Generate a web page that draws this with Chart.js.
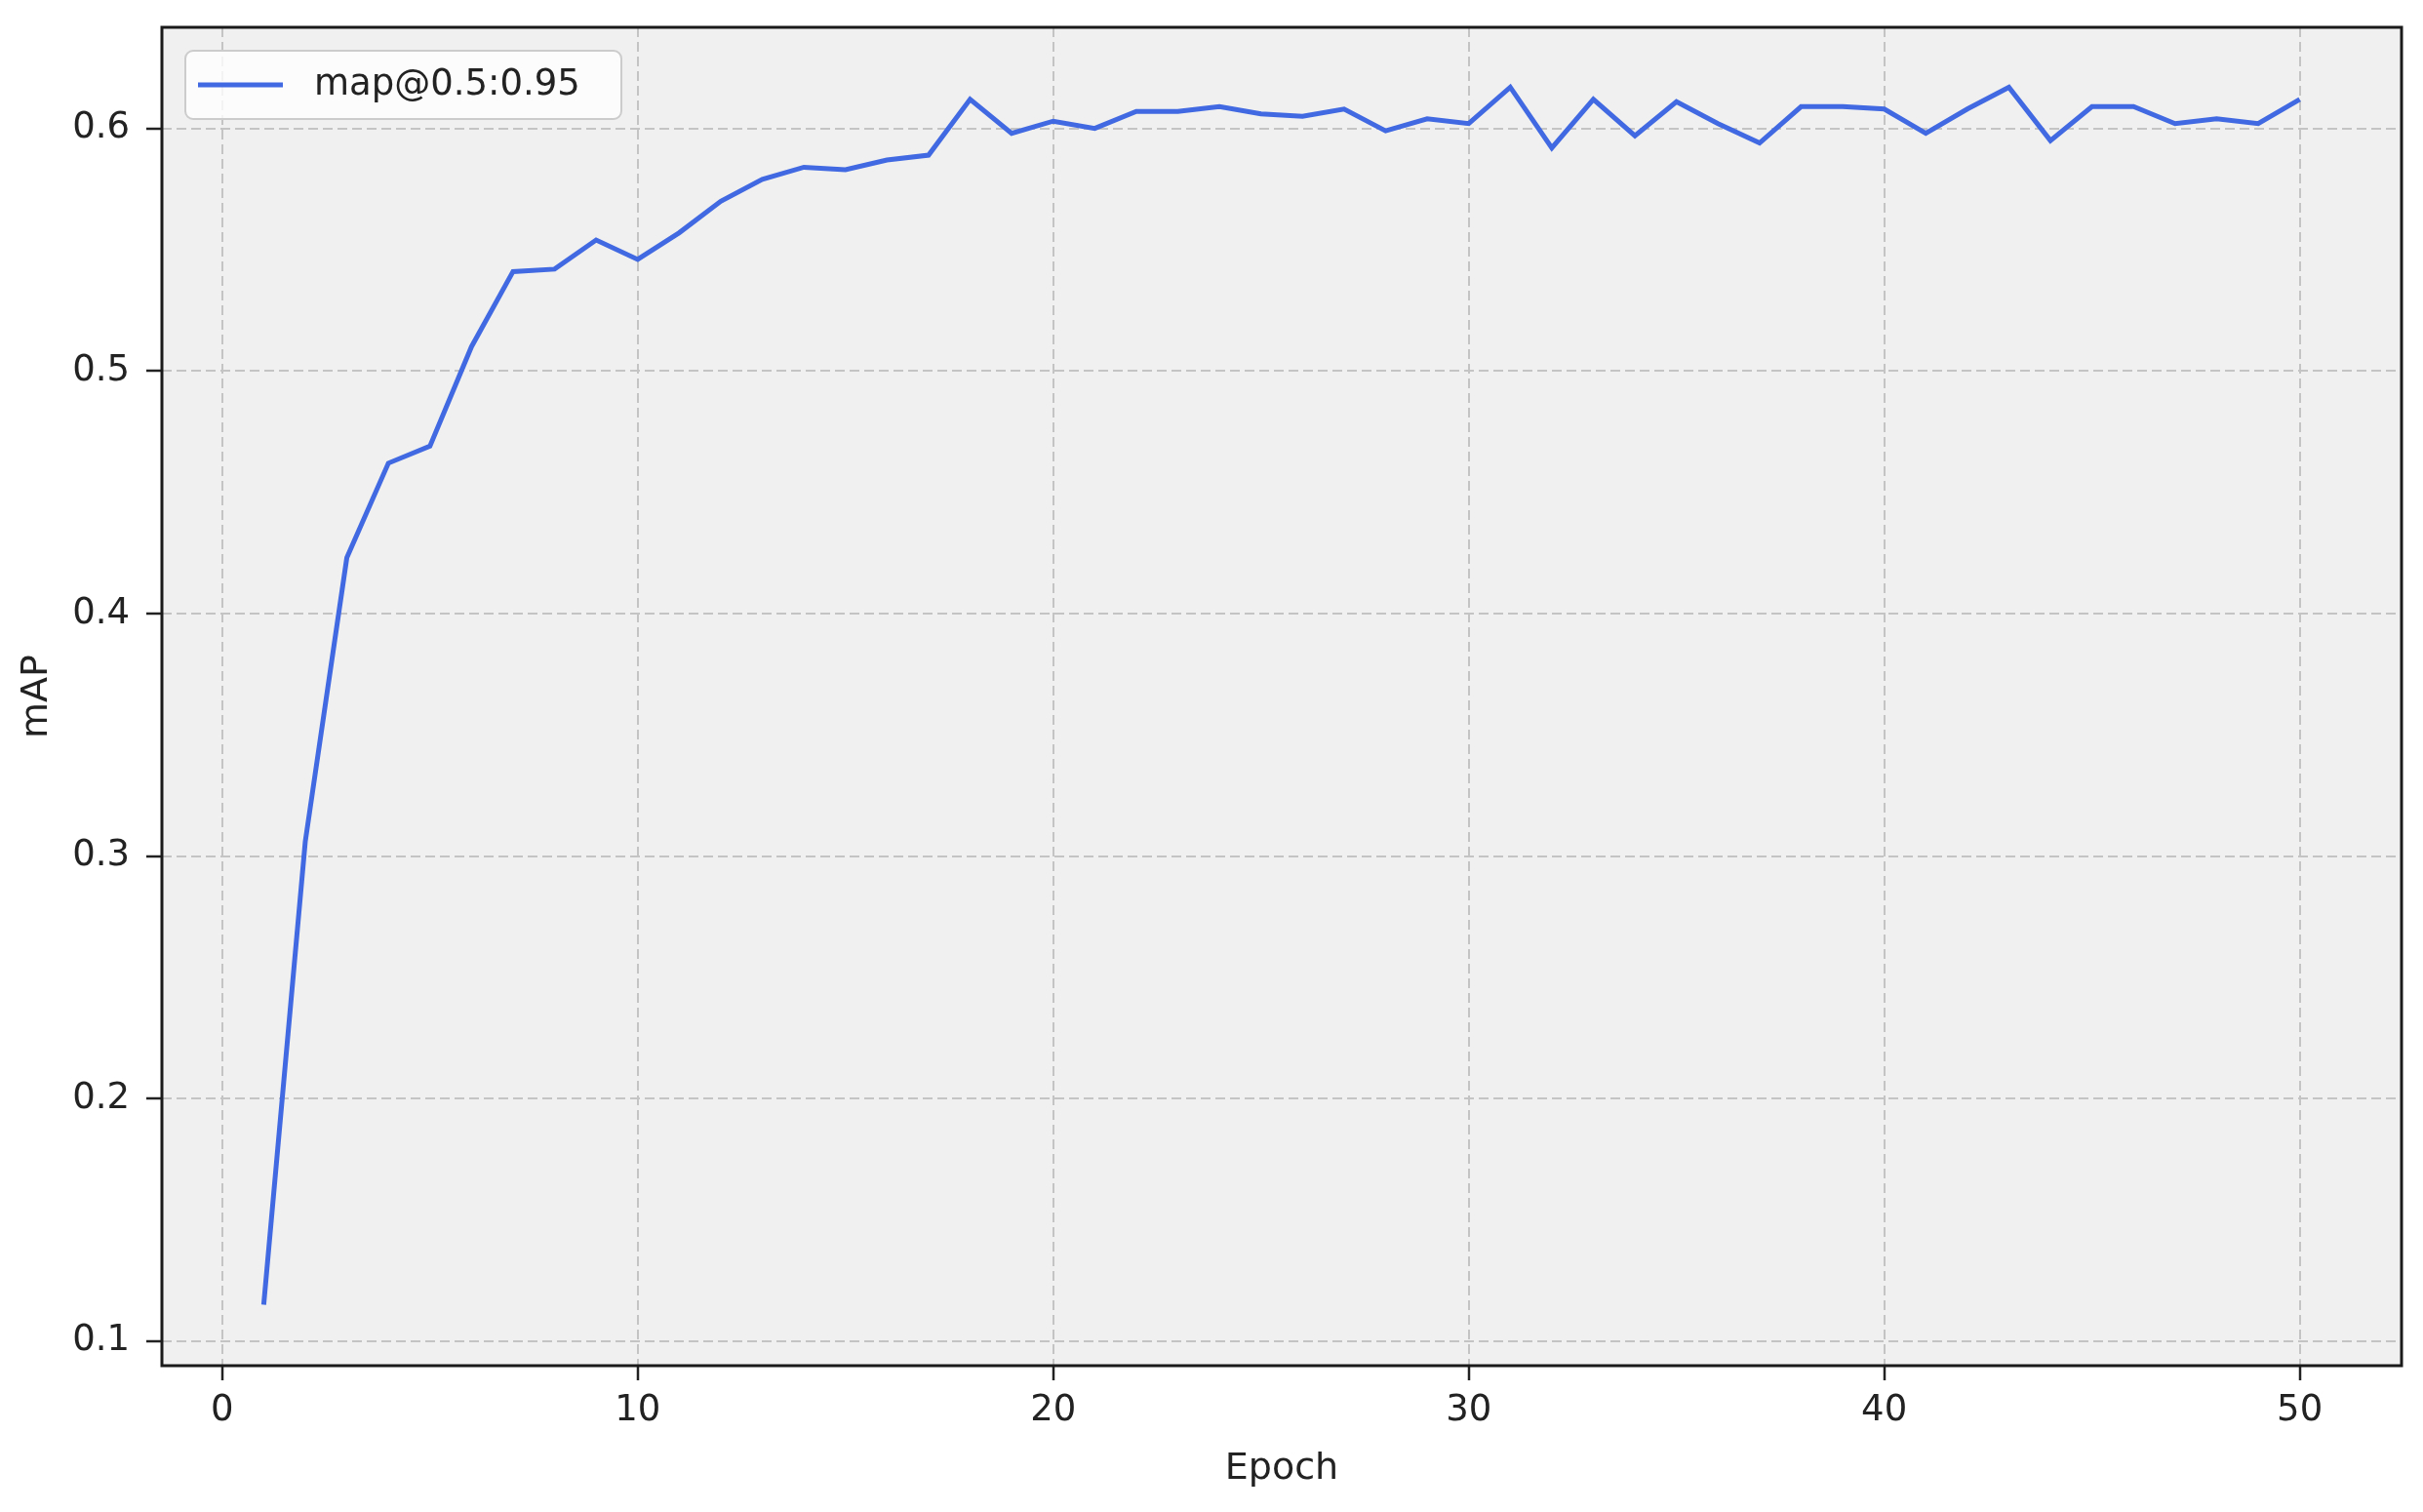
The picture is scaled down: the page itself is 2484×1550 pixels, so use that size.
<!DOCTYPE html>
<html>
<head>
<meta charset="utf-8">
<script src="https://cdn.jsdelivr.net/npm/chart.js@4"></script>
<style>
  html, body { margin: 0; padding: 0; background: #fff; }
  canvas { display: block; }
</style>
</head>
<body>
<canvas id="grafica_map" width="2484" height="1550"></canvas>
<script>
/* data */
const epocas = [1, 2, 3, 4, 5, 6, 7, 8, 9, 10,
                11, 12, 13, 14, 15, 16, 17, 18, 19, 20,
                21, 22, 23, 24, 25, 26, 27, 28, 29, 30,
                31, 32, 33, 34, 35, 36, 37, 38, 39, 40,
                41, 42, 43, 44, 45, 46, 47, 48, 49, 50];
const valores_map = [0.115, 0.306, 0.423, 0.462, 0.469, 0.510, 0.541, 0.542, 0.554, 0.546,
                     0.557, 0.570, 0.579, 0.584, 0.583, 0.587, 0.589, 0.612, 0.598, 0.603,
                     0.600, 0.607, 0.607, 0.609, 0.606, 0.605, 0.608, 0.599, 0.604, 0.602,
                     0.617, 0.592, 0.612, 0.597, 0.611, 0.602, 0.594, 0.609, 0.609, 0.608,
                     0.598, 0.608, 0.617, 0.595, 0.609, 0.609, 0.602, 0.604, 0.602, 0.612];
const etiqueta_serie = 'map@0.5:0.95';
const ticks_x = [0, 10, 20, 30, 40, 50];
const ticks_y = [0.1, 0.2, 0.3, 0.4, 0.5, 0.6];

const FUENTE = "'DejaVu Sans', sans-serif";
const COLOR_TEXTO = '#222';
const COLOR_LINEA = '#4169E1';

/* grey plot background, black frame and the boxed legend inside the axes */
const decoracion = {
    id: 'decoracion',
    beforeDraw(chart) {
        const { ctx, chartArea: ca } = chart;
        ctx.save();
        ctx.fillStyle = '#f0f0f0';
        ctx.fillRect(ca.left, ca.top, ca.right - ca.left, ca.bottom - ca.top);
        ctx.restore();
    },
    afterDatasetsDraw(chart) {
        const { ctx, chartArea: ca } = chart;
        ctx.save();
        ctx.strokeStyle = '#1a1a1a';
        ctx.lineWidth = 3;
        ctx.strokeRect(ca.left, ca.top, ca.right - ca.left, ca.bottom - ca.top);

        /* legend box */
        const bx = ca.left + 24, by = ca.top + 24, bw = 447, bh = 70;
        ctx.beginPath();
        ctx.roundRect(bx, by, bw, bh, 8);
        ctx.fillStyle = 'rgba(255,255,255,0.8)';
        ctx.fill();
        ctx.strokeStyle = '#cccccc';
        ctx.lineWidth = 2;
        ctx.stroke();

        const cy = by + bh / 2;
        ctx.beginPath();
        ctx.moveTo(bx + 13, cy);
        ctx.lineTo(bx + 100, cy);
        ctx.strokeStyle = COLOR_LINEA;
        ctx.lineWidth = 5;
        ctx.stroke();

        ctx.fillStyle = COLOR_TEXTO;
        ctx.font = `37px ${FUENTE}`;
        ctx.textBaseline = 'middle';
        ctx.textAlign = 'left';
        ctx.fillText(chart.data.datasets[0].label, bx + 132, cy);
        ctx.restore();
    }
};

new Chart(document.getElementById('grafica_map'), {
    type: 'line',
    data: {
        datasets: [{
            label: etiqueta_serie,
            data: epocas.map((e, i) => ({ x: e, y: valores_map[i] })),
            borderColor: COLOR_LINEA,
            borderWidth: 5,
            pointRadius: 0,
            tension: 0,
            fill: false
        }]
    },
    options: {
        responsive: false,
        animation: false,
        layout: { padding: { left: 0, top: 28, right: 22, bottom: 0 } },
        plugins: {
            legend: { display: false },
            tooltip: { enabled: false }
        },
        scales: {
            x: {
                type: 'linear',
                min: -1.45,
                max: 52.45,
                afterBuildTicks: s => { s.ticks = ticks_x.map(v => ({ value: v })); },
                afterFit: s => { s.height = 150; s.paddingLeft = 0; s.paddingRight = 0; },
                ticks: {
                    callback: v => String(v),
                    color: COLOR_TEXTO,
                    font: { family: FUENTE, size: 37 },
                    padding: 9,
                    maxRotation: 0,
                    autoSkip: false
                },
                grid: { color: '#c4c4c4', lineWidth: 2, tickColor: '#222', tickLength: 15, tickWidth: 2.5 },
                border: { display: false, dash: [10, 5] },
                title: {
                    display: true,
                    text: 'Epoch',
                    color: COLOR_TEXTO,
                    font: { family: FUENTE, size: 38 },
                    padding: { top: 0, bottom: 21 }
                }
            },
            y: {
                min: 0.0899,
                max: 0.6417,
                afterBuildTicks: s => { s.ticks = ticks_y.map(v => ({ value: v })); },
                afterFit: s => { s.width = 166; s.paddingTop = 0; s.paddingBottom = 0; },
                ticks: {
                    callback: v => v.toFixed(1),
                    color: COLOR_TEXTO,
                    font: { family: FUENTE, size: 37 },
                    padding: 17,
                    autoSkip: false
                },
                grid: { color: '#c4c4c4', lineWidth: 2, tickColor: '#222', tickLength: 16, tickWidth: 2.5 },
                border: { display: false, dash: [10, 5] },
                title: {
                    display: true,
                    text: 'mAP',
                    color: COLOR_TEXTO,
                    font: { family: FUENTE, size: 38 },
                    padding: { top: 15, bottom: 0 }
                }
            }
        }
    },
    plugins: [decoracion]
});
</script>
</body>
</html>
